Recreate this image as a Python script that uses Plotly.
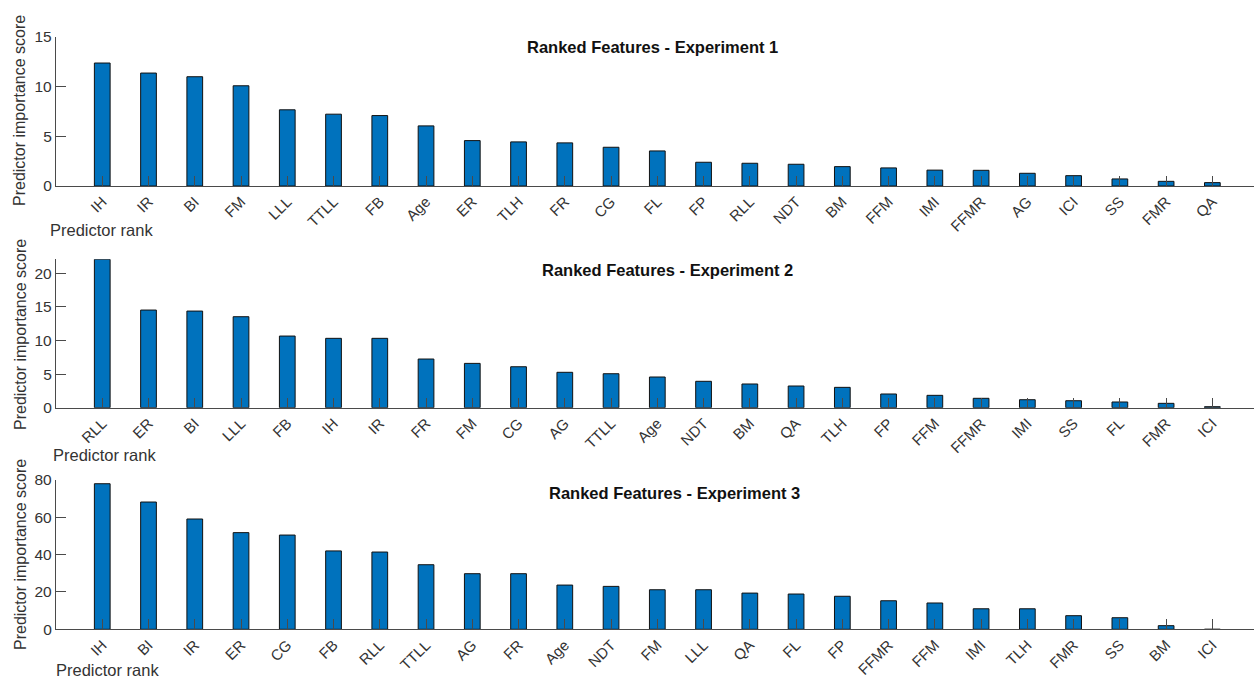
import plotly.graph_objects as go

# ---------------- data ----------------
exp1_features = ["IH", "IR", "BI", "FM", "LLL", "TTLL", "FB", "Age", "ER", "TLH", "FR", "CG", "FL",
                 "FP", "RLL", "NDT", "BM", "FFM", "IMI", "FFMR", "AG", "ICI", "SS", "FMR", "QA"]
exp1_scores = [12.38, 11.37, 11.0, 10.09, 7.67, 7.23, 7.09, 6.05, 4.57, 4.44, 4.34, 3.9, 3.53,
               2.39, 2.29, 2.19, 1.95, 1.82, 1.6, 1.58, 1.28, 1.04, 0.71, 0.47, 0.34]

exp2_features = ["RLL", "ER", "BI", "LLL", "FB", "IH", "IR", "FR", "FM", "CG", "AG", "TTLL", "Age",
                 "NDT", "BM", "QA", "TLH", "FP", "FFM", "FFMR", "IMI", "SS", "FL", "FMR", "ICI"]
exp2_scores = [22.1, 14.54, 14.39, 13.55, 10.67, 10.33, 10.33, 7.25, 6.6, 6.1, 5.27, 5.06, 4.57,
               3.93, 3.53, 3.23, 3.03, 2.04, 1.84, 1.4, 1.19, 1.04, 0.85, 0.65, 0.15]

exp3_features = ["IH", "BI", "IR", "ER", "CG", "FB", "RLL", "TTLL", "AG", "FR", "Age", "NDT", "FM",
                 "LLL", "QA", "FL", "FP", "FFMR", "FFM", "IMI", "TLH", "FMR", "SS", "BM", "ICI"]
exp3_scores = [78.0, 68.2, 59.1, 51.8, 50.5, 42.0, 41.4, 34.6, 29.8, 29.8, 23.7, 23.0, 21.2,
               21.2, 19.4, 18.9, 17.7, 15.3, 14.1, 11.0, 11.0, 7.3, 6.2, 1.95, 0.0]

titles = ["Ranked Features - Experiment 1", "Ranked Features - Experiment 2",
          "Ranked Features - Experiment 3"]
y_ranges = [[0, 15], [0, 22.1], [0, 80]]
y_ticks = [[0, 5, 10, 15], [0, 5, 10, 15, 20], [0, 20, 40, 60, 80]]

# ---------------- layout geometry ----------------
W, H = 1254, 679
def py(p):
    return 1 - p / H
def px(p):
    return p / W

y_domains = [[py(186), py(37)], [py(407.7), py(259.3)], [py(629.3), py(480)]]
x_domain = [px(56), 1.0]

FONT = "Liberation Sans, Arial, Helvetica, sans-serif"
BAR_COLOR = "#0072BD"
AX_COLOR = "#4a4a4a"

fig = go.Figure()
panels = [(exp1_features, exp1_scores), (exp2_features, exp2_scores), (exp3_features, exp3_scores)]

layout = dict(
    template="none",
    width=W, height=H, margin=dict(l=0, r=0, t=0, b=0, pad=0, autoexpand=False),
    paper_bgcolor="white", plot_bgcolor="white", showlegend=False,
    font=dict(family=FONT, color="#333333"),
)

for i, (feats, scores) in enumerate(panels):
    n = i + 1
    xs = list(range(1, len(feats) + 1))
    fig.add_trace(go.Bar(
        x=xs, y=scores, width=0.34,
        marker=dict(color=BAR_COLOR, line=dict(color="#111111", width=1)),
        xaxis=f"x{n if n > 1 else ''}", yaxis=f"y{n if n > 1 else ''}",
        hoverinfo="x+y",
    ))
    xa = "xaxis" if n == 1 else f"xaxis{n}"
    ya = "yaxis" if n == 1 else f"yaxis{n}"
    layout[xa] = dict(
        domain=x_domain, range=[0, 25.9], anchor=f"y{n if n > 1 else ''}",
        tickmode="array", tickvals=xs, ticktext=feats, tickangle=-45,
        ticks="inside", ticklen=10, tickwidth=1, tickcolor=AX_COLOR,
        showline=True, linecolor=AX_COLOR, linewidth=1.3, showgrid=False, zeroline=False,
        tickfont=dict(size=15, color="#333333", family=FONT),
        layer="above traces", automargin=False,
    )
    layout[ya] = dict(
        domain=y_domains[i], range=y_ranges[i], anchor=f"x{n if n > 1 else ''}",
        tickmode="array", tickvals=y_ticks[i],
        ticks="inside", ticklen=10, tickwidth=1, tickcolor=AX_COLOR,
        showline=True, linecolor=AX_COLOR, linewidth=1.3, showgrid=False, zeroline=False,
        tickfont=dict(size=15.5, color="#333333", family=FONT),
        layer="above traces", automargin=False,
    )

annotations = []
title_pos = [(652, 47), (667, 270), (674, 493)]
ylabel_pos = [(20, 111), (20, 335), (20, 555)]
xlabel_pos = [(101, 230), (104, 455), (107, 670)]
for i in range(3):
    tx, ty = title_pos[i]
    annotations.append(dict(text=f"<b>{titles[i]}</b>", x=px(tx), y=py(ty), xref="paper", yref="paper",
                            xanchor="center", yanchor="middle", showarrow=False,
                            font=dict(size=16.5, color="#111111", family=FONT)))
    lx, ly = ylabel_pos[i]
    annotations.append(dict(text="Predictor importance score", x=px(lx), y=py(ly), xref="paper", yref="paper",
                            xanchor="center", yanchor="middle", showarrow=False, textangle=-90,
                            font=dict(size=16, color="#333333", family=FONT)))
    rx, ry = xlabel_pos[i]
    annotations.append(dict(text="Predictor rank", x=px(rx), y=py(ry), xref="paper", yref="paper",
                            xanchor="center", yanchor="middle", showarrow=False,
                            font=dict(size=16.5, color="#333333", family=FONT)))

layout["annotations"] = annotations
fig.update_layout(**layout)

fig.write_html("out.html")
